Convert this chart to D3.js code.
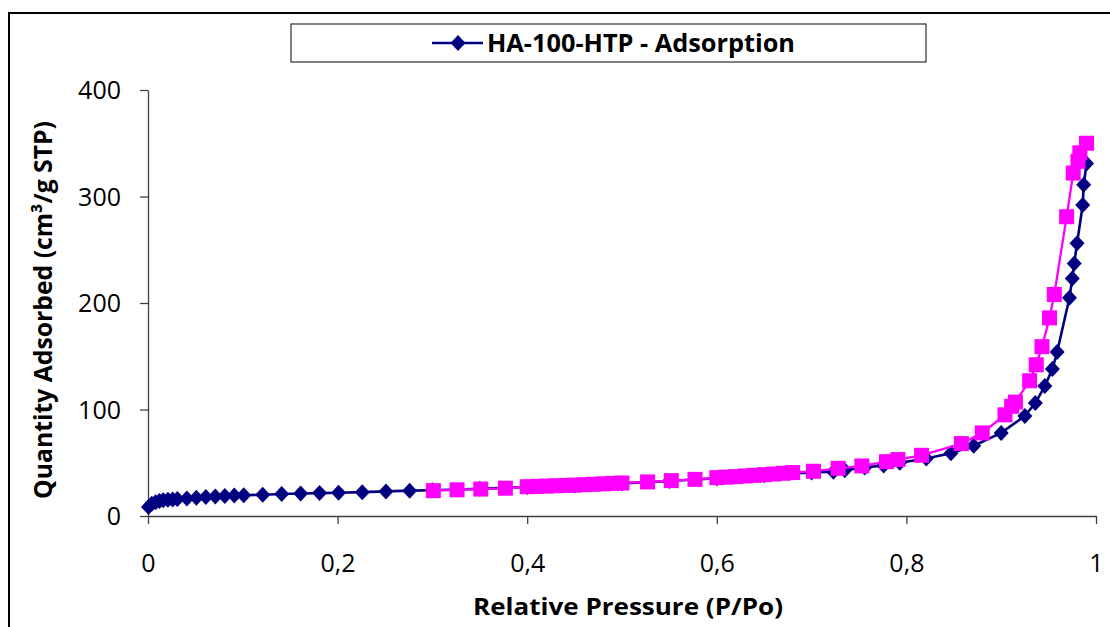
<!DOCTYPE html>
<html>
<head>
<meta charset="utf-8">
<script src="https://cdn.jsdelivr.net/npm/d3@7/dist/d3.min.js"></script>
<style>
  html, body { margin: 0; padding: 0; background: #fff; }
  svg { display: block; }
  text { font-family: "Open Sans", "Liberation Sans", sans-serif; }
</style>
</head>
<body>
<svg id="chart" width="1110" height="627"></svg>
<script>
// ---- data ----
const seriesNames = ["HA-100-HTP - Adsorption", "HA-100-HTP - Desorption"];
const xTicks = [0, 0.2, 0.4, 0.6, 0.8, 1];
const xTickLabels = ["0", "0,2", "0,4", "0,6", "0,8", "1"];
const yTicks = [0, 100, 200, 300, 400];
const yTickLabels = ["0", "100", "200", "300", "400"];
const xTitle = "Relative Pressure (P/Po)";
const yTitle = "Quantity Adsorbed (cm³/g STP)";

const adsP = [0.0005, 0.004, 0.008, 0.012, 0.016, 0.021, 0.026, 0.031, 0.041, 0.051,
  0.061, 0.071, 0.081, 0.091, 0.101, 0.121, 0.141, 0.161, 0.181, 0.201,
  0.226, 0.251, 0.276, 0.30, 0.35, 0.40, 0.45, 0.50, 0.55, 0.60,
  0.65, 0.70, 0.723, 0.735, 0.756, 0.776, 0.793, 0.821, 0.847, 0.871,
  0.900, 0.925, 0.936, 0.946, 0.954, 0.959, 0.972, 0.975, 0.977, 0.980,
  0.986, 0.987, 0.990];
const adsV = [8.5, 11.5, 13, 14, 14.7, 15.2, 15.6, 16.0, 16.5, 17.2,
  17.8, 18.3, 18.8, 19.2, 19.5, 20.0, 20.6, 21.1, 21.5, 21.9,
  22.4, 23.1, 23.8, 24.2, 25.6, 27.2, 28.7, 30.6, 32.8, 35.5,
  38.2, 40.8, 41.6, 43, 45.5, 47.5, 50, 54, 59, 66,
  78, 94, 106, 122, 138, 154, 205, 223, 237, 256,
  292, 311, 331];

const desP = [0.990, 0.983, 0.981, 0.976, 0.969, 0.956, 0.951, 0.943, 0.937, 0.930,
  0.915, 0.911, 0.904, 0.880, 0.858, 0.816, 0.791, 0.779, 0.753, 0.728,
  0.702, 0.68, 0.67, 0.66, 0.65, 0.64, 0.63, 0.62, 0.61, 0.60,
  0.577, 0.552, 0.527, 0.50, 0.49, 0.48, 0.47, 0.46, 0.45, 0.44,
  0.43, 0.42, 0.41, 0.40, 0.377, 0.351, 0.326, 0.301];
const desV = [350, 341, 333, 322, 281, 208, 186, 159, 142, 127,
  107, 103, 95, 78, 68, 57, 53, 51, 47, 44.8,
  42, 40.8, 40.1, 39.4, 38.8, 38.2, 37.6, 37.0, 36.5, 36,
  34.4, 33.2, 32, 31, 30.6, 30.2, 29.8, 29.4, 29.0, 28.7,
  28.4, 28.1, 27.8, 27.5, 26.1, 25.3, 24.6, 23.8];

// ---- layout ----
const plot = { left: 148, right: 1096, top: 90, bottom: 516 };
const navy = "#000080", magenta = "#FF00FF";

const svg = d3.select("#chart");

// outer chart frame
svg.append("rect")
  .attr("x", 9).attr("y", 13).attr("width", 1130).attr("height", 700)
  .attr("fill", "#fff").attr("stroke", "#000").attr("stroke-width", 2);

const x = d3.scaleLinear().domain([0, 1]).range([plot.left, plot.right]);
const y = d3.scaleLinear().domain([0, 400]).range([plot.bottom, plot.top]);

// axes
const xAxis = d3.axisBottom(x).tickValues(xTicks)
  .tickFormat((d, i) => xTickLabels[i]).tickSize(8).tickSizeOuter(0);
const yAxis = d3.axisLeft(y).tickValues(yTicks)
  .tickFormat((d, i) => yTickLabels[i]).tickSize(8).tickSizeOuter(0);

const gx = svg.append("g").attr("transform", `translate(0,${plot.bottom})`).call(xAxis);
const gy = svg.append("g").attr("transform", `translate(${plot.left},0)`).call(yAxis);

[gx, gy].forEach(g => {
  g.select(".domain").attr("stroke", "#404040").attr("stroke-width", 1.3);
  g.selectAll(".tick line").attr("stroke", "#404040").attr("stroke-width", 1.3);
  g.selectAll(".tick text").attr("fill", "#000").style("font-size", "25px")
   .style("font-family", "'Open Sans', sans-serif");
});
gx.selectAll(".tick text").attr("dy", null).attr("y", 56);
gy.selectAll(".tick text").attr("x", -27).attr("dy", "0.35em");

// axis titles
svg.append("text")
  .attr("x", (plot.left + plot.right) / 2 + 6).attr("y", 615)
  .attr("text-anchor", "middle")
  .attr("textLength", 310).attr("lengthAdjust", "spacingAndGlyphs")
  .style("font-size", "24px").style("font-weight", "bold")
  .text(xTitle);

svg.append("text")
  .attr("transform", "translate(52,310) rotate(-90)")
  .attr("text-anchor", "middle")
  .attr("textLength", 378).attr("lengthAdjust", "spacingAndGlyphs")
  .style("font-size", "25px").style("font-weight", "bold")
  .text(yTitle);

// series
const line = d3.line().x(d => x(d[0])).y(d => y(d[1]));
const ads = adsP.map((p, i) => [p, adsV[i]]);
const des = desP.map((p, i) => [p, desV[i]]);

function diamondPath(cx, cy, hw, hh) {
  return `M${cx},${cy - hh}L${cx + hw},${cy}L${cx},${cy + hh}L${cx - hw},${cy}Z`;
}

svg.append("path").datum(ads)
  .attr("d", line).attr("fill", "none").attr("stroke", navy).attr("stroke-width", 2.6);
svg.append("g").selectAll("path").data(ads).join("path")
  .attr("d", d => diamondPath(x(d[0]), y(d[1]), 7.5, 8))
  .attr("fill", navy);

svg.append("path").datum(des)
  .attr("d", line).attr("fill", "none").attr("stroke", magenta).attr("stroke-width", 2.3);
svg.append("g").selectAll("rect").data(des).join("rect")
  .attr("x", d => x(d[0]) - 7.5).attr("y", d => y(d[1]) - 7.5)
  .attr("width", 15).attr("height", 15)
  .attr("fill", magenta);

// legend
const lg = svg.append("g");
lg.append("rect").attr("x", 291).attr("y", 24).attr("width", 635).attr("height", 38)
  .attr("fill", "#fff").attr("stroke", "#303030").attr("stroke-width", 1.2);
lg.append("line").attr("x1", 432).attr("x2", 483).attr("y1", 43).attr("y2", 43)
  .attr("stroke", navy).attr("stroke-width", 2.6);
lg.append("path").attr("d", diamondPath(458, 43, 7.5, 8)).attr("fill", navy);
lg.append("text").attr("x", 487).attr("y", 52)
  .attr("textLength", 308).attr("lengthAdjust", "spacingAndGlyphs")
  .style("font-size", "25px").style("font-weight", "bold")
  .text(seriesNames[0]);
</script>
</body>
</html>
